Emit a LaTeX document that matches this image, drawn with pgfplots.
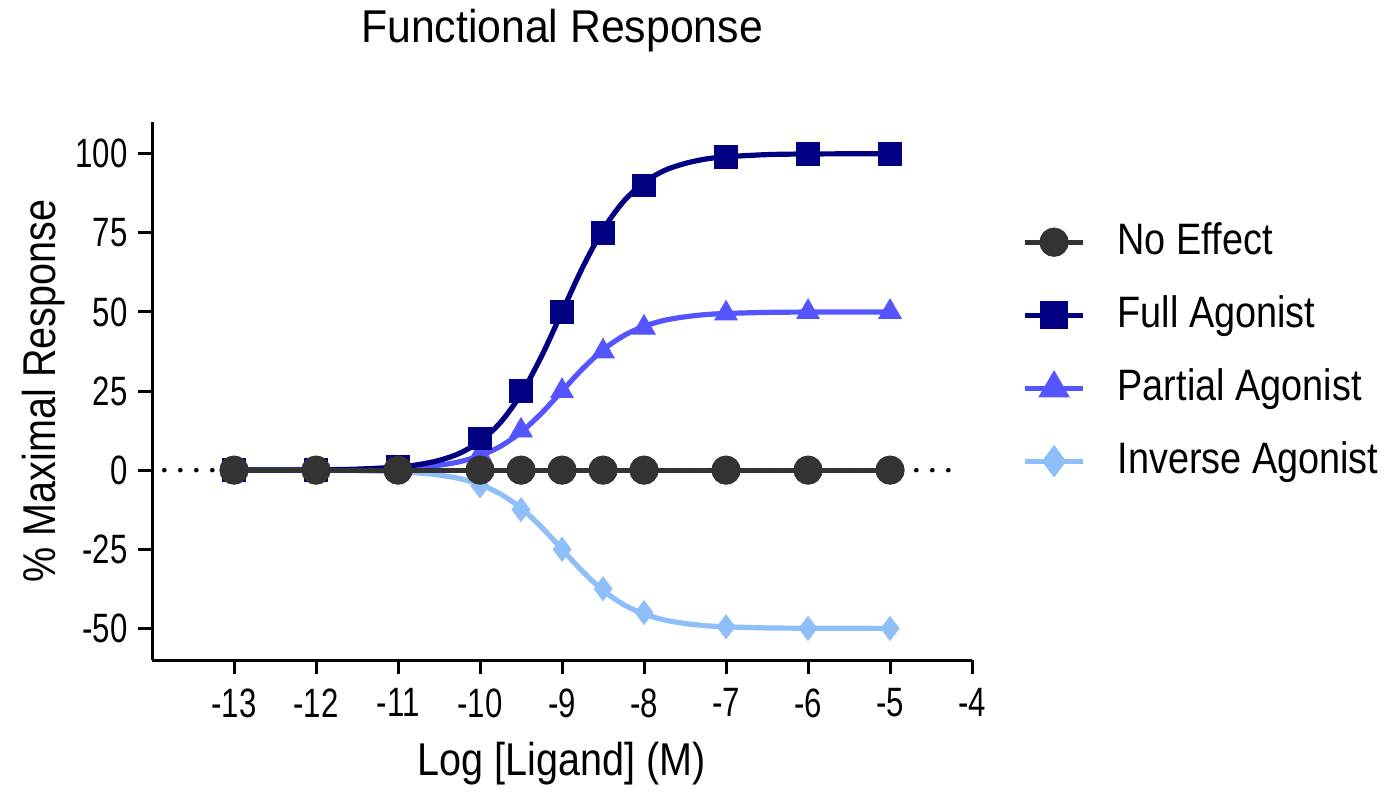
\documentclass[border=0pt]{standalone}
\usepackage{pgfplots}
\pgfplotsset{compat=1.18}
\usepackage{fontspec}
\setmainfont{Liberation Sans}[FakeStretch=0.9]
\newfontfamily\titlefont{Liberation Sans}[FakeStretch=0.93]
\newfontfamily\labfont{Liberation Sans}[FakeStretch=0.86]
\newfontfamily\tickfont{Liberation Sans}[FakeStretch=0.76]
\definecolor{noeff}{HTML}{333333}
\definecolor{full}{HTML}{000080}
\definecolor{partial}{HTML}{5555FF}
\definecolor{inverse}{HTML}{8FBFF8}
\begin{document}
\begin{tikzpicture}
\begin{axis}[
  scale only axis,
  width=410pt, height=269pt,
  xmin=-14, xmax=-4, ymin=-60, ymax=110,
  axis lines=left,
  axis line style={line width=1.5pt, -},
  xtick={-13,-12,...,-4},
  ytick={-50,-25,0,25,50,75,100},
  tick align=outside,
  major tick length=7pt,
  tick style={line width=1.5pt, black},
  /pgf/number format/assume math mode=true,
  ticklabel style={font=\tickfont\fontsize{20.5}{24}\selectfont},
  yticklabel style={inner sep=5pt},
  xticklabel style={inner sep=7pt},
  clip=false,
  title={Functional Response},
  title style={font=\titlefont\fontsize{23}{27}\selectfont, at={(rel axis cs:0.5,1.1264)}, anchor=base},
  xlabel={Log [Ligand] (M)},
  xlabel style={font=\labfont\fontsize{23}{27}\selectfont, at={(rel axis cs:0.5,-0.2138)}, anchor=base},
  ylabel={\% Maximal Response},
  ylabel style={font=\labfont\fontsize{23}{27}\selectfont, at={(rel axis cs:-0.1183,0.5)}, anchor=base},
  legend style={draw=none, fill=none, at={(rel axis cs:1.061,0.8145)}, anchor=north west,
    font=\labfont\fontsize{22}{26}\selectfont, row sep=16.5pt, inner sep=0pt,
    nodes={inner sep=0pt, text height=16pt, text depth=4pt}},
  legend cell align=left,
  legend image code/.code={\draw[mark repeat=2, mark phase=2] plot coordinates {(0pt,0pt) (14.5pt,0pt) (29pt,0pt)};},
  /tikz/every odd column/.append style={column sep=16pt},
]
\path (rel axis cs:-0.1854,-0.2565) rectangle (rel axis cs:1.5085,1.2268);
\draw[black, line width=2.3pt, line cap=round, dash pattern=on 0pt off 8pt] (axis cs:-13.85,0) -- (axis cs:-4.15,0);

% Inverse agonist
\addplot[inverse, line width=2.6pt, smooth, no marks, forget plot] coordinates {
(-13,-0.01) (-12,-0.05) (-11.5,-0.16) (-11,-0.5) (-10.75,-0.87) (-10.5,-1.54) (-10.25,-2.66) (-10,-4.55) (-9.75,-7.55) (-9.5,-12.0) (-9.25,-18.0) (-9,-25) (-8.75,-32.0) (-8.5,-38.0) (-8.25,-42.45) (-8,-45.45) (-7.75,-47.35) (-7.5,-48.45) (-7.25,-49.15) (-7,-49.5) (-6.5,-49.85) (-6,-49.95) (-5,-50)};
\addplot[inverse, only marks, mark=diamond*, mark size=6pt, forget plot] coordinates {
(-13,0) (-12,0) (-11,-0.5) (-10,-5) (-9.5,-12.5) (-9,-25) (-8.5,-37.5) (-8,-45) (-7,-49.5) (-6,-50) (-5,-50)};

% Partial agonist
\addplot[partial, line width=2.6pt, smooth, no marks, forget plot] coordinates {
(-13,0.01) (-12,0.05) (-11.5,0.16) (-11,0.5) (-10.75,0.87) (-10.5,1.54) (-10.25,2.66) (-10,4.55) (-9.75,7.55) (-9.5,12.0) (-9.25,18.0) (-9,25) (-8.75,32.0) (-8.5,38.0) (-8.25,42.45) (-8,45.45) (-7.75,47.35) (-7.5,48.45) (-7.25,49.15) (-7,49.5) (-6.5,49.85) (-6,49.95) (-5,50)};
\addplot[partial, only marks, mark=triangle*, mark size=6.5pt, forget plot] coordinates {
(-13,0) (-12,0) (-11,0.5) (-10,5) (-9.5,12.5) (-9,25) (-8.5,37.5) (-8,45) (-7,49.5) (-6,50) (-5,50)};

% Full agonist
\addplot[full, line width=2.6pt, smooth, no marks, forget plot] coordinates {
(-13,0.01) (-12,0.1) (-11.5,0.32) (-11,0.99) (-10.75,1.75) (-10.5,3.07) (-10.25,5.32) (-10,9.09) (-9.75,15.1) (-9.5,24.0) (-9.25,36.0) (-9,50) (-8.75,64.0) (-8.5,76.0) (-8.25,84.9) (-8,90.9) (-7.75,94.7) (-7.5,96.9) (-7.25,98.3) (-7,99.0) (-6.5,99.7) (-6,99.9) (-5,100)};
\addplot[full, only marks, mark=square*, mark size=5.7pt, forget plot] coordinates {
(-13,0) (-12,0) (-11,1) (-10,10) (-9.5,25) (-9,50) (-8.5,75) (-8,90) (-7,99) (-6,100) (-5,100)};

% No effect
\addplot[noeff, line width=2.6pt, mark=*, mark size=6pt, forget plot] coordinates {
(-13,0) (-12,0) (-11,0) (-10,0) (-9.5,0) (-9,0) (-8.5,0) (-8,0) (-7,0) (-6,0) (-5,0)};

\addlegendimage{noeff, line width=2.6pt, mark=*, mark size=6pt}
\addlegendentry{No Effect}
\addlegendimage{full, line width=2.6pt, mark=square*, mark size=5.7pt}
\addlegendentry{Full Agonist}
\addlegendimage{partial, line width=2.6pt, mark=triangle*, mark size=6.5pt}
\addlegendentry{Partial Agonist}
\addlegendimage{inverse, line width=2.6pt, mark=diamond*, mark size=6pt}
\addlegendentry{Inverse Agonist}
\end{axis}
\end{tikzpicture}
\end{document}
